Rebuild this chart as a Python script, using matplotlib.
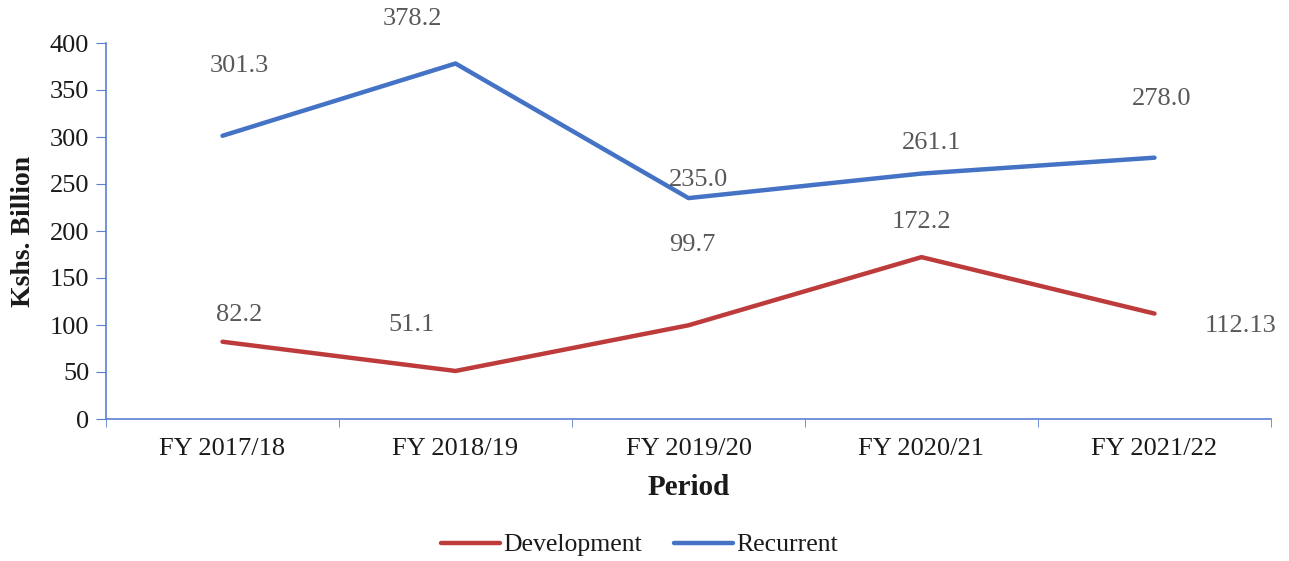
import matplotlib.pyplot as plt
import numpy as np

plt.rcParams['font.family'] = ['Liberation Serif', 'DejaVu Serif']

periods = ["FY 2017/18", "FY 2018/19", "FY 2019/20", "FY 2020/21", "FY 2021/22"]
development = [82.2, 51.1, 99.7, 172.2, 112.13]
recurrent = [301.3, 378.2, 235.0, 261.1, 278.0]
dev_labels = ["82.2", "51.1", "99.7", "172.2", "112.13"]
rec_labels = ["301.3", "378.2", "235.0", "261.1", "278.0"]

# label offsets in points (dx, dy) relative to each point
dev_off = [(12, 19), (-32, 33), (3, 58), (0, 25), (62, -9)]
rec_off = [(12, 50), (-31, 32), (7, 13), (7, 22), (5, 42)]

blue = "#4472C4"
red = "#BE3B3B"
axis_col = "#5B7FD0"
lab_col = "#595959"
txt_col = "#1a1a1a"

fig = plt.figure(figsize=(12.89, 5.61), dpi=100)
ax = fig.add_axes([106/1289, 1 - 419/561, (1271 - 106)/1289, (419 - 43)/561])

x = np.arange(len(periods))
ax.plot(x, development, color=red, lw=3.2, label="Development", solid_capstyle="round")
ax.plot(x, recurrent, color=blue, lw=3.2, label="Recurrent", solid_capstyle="round")

for xi, v, t, (dx, dy) in zip(x, development, dev_labels, dev_off):
    ax.annotate(t, (xi, v), xytext=(dx, dy), textcoords="offset points",
                ha="center", va="center", fontsize=19, color=lab_col)
for xi, v, t, (dx, dy) in zip(x, recurrent, rec_labels, rec_off):
    ax.annotate(t, (xi, v), xytext=(dx, dy), textcoords="offset points",
                ha="center", va="center", fontsize=19, color=lab_col)

ax.set_xlim(-0.5, len(periods) - 0.5)
ax.set_ylim(0, 400)
ax.set_yticks(range(0, 401, 50))
ax.set_xticks(x)
ax.set_xticklabels(periods)
ax.set_xticks(np.arange(-0.5, len(periods)), minor=True)
ax.tick_params(axis="x", which="major", length=0, labelsize=19, pad=14, labelcolor=txt_col)
ax.tick_params(axis="x", which="minor", length=6, color=axis_col, direction="out")
ax.tick_params(axis="y", length=7, color=axis_col, labelsize=19, labelcolor=txt_col, pad=5)

for s in ["top", "right"]:
    ax.spines[s].set_visible(False)
for s in ["left", "bottom"]:
    ax.spines[s].set_color(axis_col)
    ax.spines[s].set_linewidth(1.2)

ax.set_ylabel("Kshs. Billion", fontsize=20, fontweight="bold", labelpad=10, color=txt_col)
ax.set_xlabel("Period", fontsize=21, fontweight="bold", labelpad=10, color=txt_col)

fig.legend(loc="center", bbox_to_anchor=(0.496, 1 - 545/561), ncol=2, frameon=False,
           fontsize=18.5, handlelength=2.3, handletextpad=0.12, columnspacing=1.25,
           labelcolor=txt_col)

fig.savefig("out.png", dpi=100)
